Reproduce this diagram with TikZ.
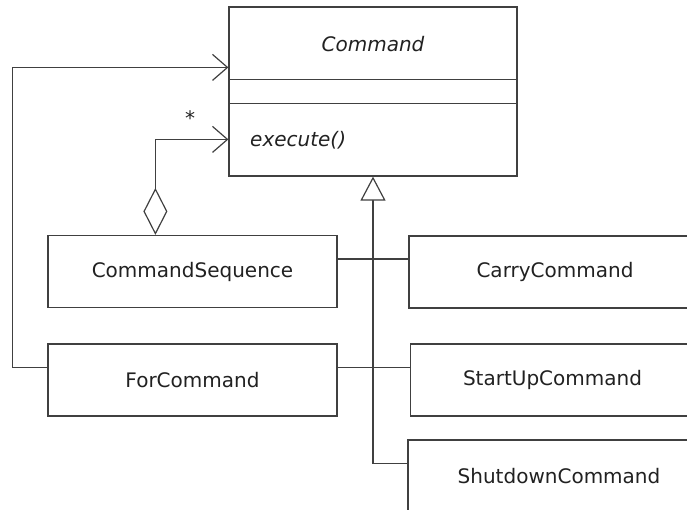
\documentclass[tikz,border=0pt]{standalone}
\usepackage{fontspec}
\setmainfont{DejaVu Sans}
\usepackage{xcolor}
\usetikzlibrary{arrows.meta, calc, math}

\definecolor{umlline}{gray}{0.25}
\definecolor{umltext}{gray}{0.13}

\begin{document}
\begin{tikzpicture}[x=1pt, y=-1pt,
  link/.style={draw=umlline, line width=1.2pt},
  cls/.style={link, minimum width=289pt, minimum height=72pt, inner sep=0pt,
    text=umltext, font=\fontsize{20}{24}\selectfont},
  lbl/.style={text=umltext, font=\fontsize{20}{24}\selectfont, inner sep=0pt},
  navi/.style={-{Straight Barb[length=15pt, width=26pt]}},
  gen/.style={-{Triangle[open, length=24pt, width=25pt, fill=white]}},
  aggr/.style={{Diamond[open, length=47pt, width=24pt, fill=white]}-{Straight Barb[length=15pt, width=26pt]}}]
\tikzmath{
\ins=24;
}
\useasboundingbox (0,0) rectangle (687,509);
\clip (0,0) rectangle (687,509);

% abstract class
\node[link, minimum width=288pt, minimum height=169pt, inner sep=0pt] (command) at (373,91.5) {};
\draw[link] ($(command.north west)+(0,73)$) -- ($(command.north east)+(0,73)$);
\draw[link] ($(command.north west)+(0,97)$) -- ($(command.north east)+(0,97)$);
\node[lbl, font=\fontsize{20}{24}\selectfont\itshape] (cmdname) at ($(command.north)+(0,37.5)$) {Command};
\node[lbl, font=\fontsize{20}{24}\selectfont\itshape, anchor=west] (cmdexec) at (250,140) {execute()};
\coordinate (cmdin1) at ($(command.north west)+(0,61)$);
\coordinate (cmdin2) at ($(command.north west)+(0,133)$);

% subclasses
\node[cls] (cmdseq) at (192.5,271.5) {CommandSequence};
\node[cls] (forcmd) at (192.5,380) {ForCommand};
\node[cls, minimum width=292pt] (carry) at (555,272) {CarryCommand};
\node[cls, minimum width=284pt] (startup) at (552.5,380) {StartUpCommand};
\node[cls, minimum width=302pt] (shutdown) at (559,476) {ShutdownCommand};

\coordinate (seqout) at ($(cmdseq.north east)+(0,\ins)$);
\coordinate (forout) at ($(forcmd.north east)+(0,\ins)$);
\coordinate (forin) at ($(forcmd.north west)+(0,\ins)$);
\coordinate (shutin) at ($(shutdown.north west)+(0,\ins)$);
\coordinate (seqtop) at ($(cmdseq.north west)+(108,0)$);

% generalisation
\draw[link, gen] (shutin) -| (command.south);
\draw[link] (seqout) -- (seqout -| carry.west);
\draw[link] (forout) -- (forout -| startup.west);

% associations
\draw[link, navi] (forin) -- ++(-35,0) |- (cmdin1);
\draw[link, aggr] (seqtop) |- (cmdin2);
\node[lbl] (mult) at (190,118) {*};

\end{tikzpicture}
\end{document}
